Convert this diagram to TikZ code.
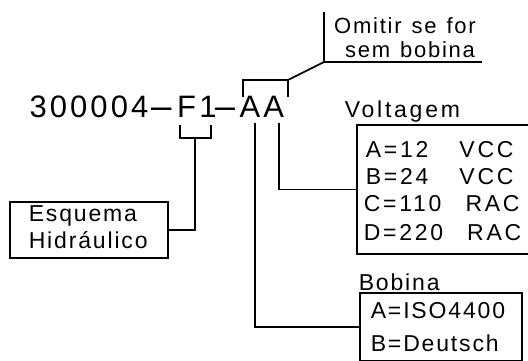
\documentclass[tikz,border=0pt]{standalone}
\usepackage{fontspec}
\setmainfont{Liberation Sans}
\newfontfamily\bigf{Liberation Sans}[LetterSpace=10]
\newfontfamily\smf{Liberation Sans}[LetterSpace=8]
\newfontfamily\smfw{Liberation Sans}[LetterSpace=12]
\newcommand\hyA{\kern-3pt\makebox[31.8pt][c]{\scalebox{2.7}[1]{-}}}
\newcommand\hyB{\kern-6pt\makebox[29pt][c]{\scalebox{2.65}[1]{-}}}
\newcommand\widesp{\spaceskip 24pt\relax}
\newcommand\widerSp{\spaceskip 31pt\relax}
\newcommand\omsp{\spaceskip 10pt\relax}
\begin{document}
\begin{tikzpicture}[x=1pt,y=-1pt,line width=1.6pt,
  txt/.style={inner sep=0pt,anchor=base west,font={\smf\fontsize{23}{26}\selectfont}},
  txtw/.style={inner sep=0pt,anchor=base west,font={\smfw\fontsize{23}{26}\selectfont\widesp}},
  txtv/.style={inner sep=0pt,anchor=base west,font={\smfw\fontsize{23}{26}\selectfont\widerSp}},
  omt/.style={inner sep=0pt,anchor=base,font={\smf\fontsize{22}{24}\selectfont\omsp}},
  box/.style={draw,inner sep=0pt}]
\useasboundingbox (0,0) rectangle (528,360);
\clip (0,0) rectangle (528,360);
% main code
\node[inner sep=0pt,anchor=base west,font={\bigf\fontsize{31}{36}\selectfont}] (code) at (28.7,117) {300004\hyA F1\hyB AA};
% boxes
\node[box,minimum width=158pt,minimum height=56pt] (esq) at (89,230) {};
\node[box,minimum width=183pt,minimum height=129pt] (volt) at (448.5,189.5) {};
\node[box,minimum width=162pt,minimum height=68pt] (bob) at (441,327) {};
% texts
\node[txt] (esq1) at (28,221.7) {Esquema};
\node[txt] (esq2) at (28,248) {Hidráulico};
\node[txt,font={\smfw\fontsize{23}{26}\selectfont}] (voltlab) at (344,117) {Voltagem};
\node[txtv] (v1) at (365,157) {A=12 VCC};
\node[txtv] (v2) at (365,184) {B=24 VCC};
\node[txtw] (v3) at (363,211.5) {C=110 RAC};
\node[txtw] (v4) at (363,240) {D=220 RAC};
\node[txt] (boblab) at (358,290) {Bobina};
\node[txt] (b1) at (370,318) {A=ISO4400};
\node[txt] (b2) at (370,351.7) {B=Deutsch};
\node[omt] (om1) at (405,33.3) {Omitir se for};
\node[omt] (om2) at (410,57) {sem bobina};
% F1 bracket
\coordinate (fl) at (180,125);
\coordinate (fr) at (211,125);
\coordinate (fm) at (195,138);
\draw (fl) |- (fm) -| (fr);
\draw (fm) |- (esq.east);
% AA bracket
\coordinate (al) at (243,97);
\coordinate (ar) at (288,97);
\coordinate (atop) at (288,80);
\coordinate (knee) at (324,62);
\coordinate (vt) at (324,12);
\coordinate (ue) at (482,62);
\draw (al) |- (atop) -- (ar);
\draw (atop) -- (knee);
\draw (vt) -- (knee) -- (ue);
% A lines
\coordinate (a1) at (255,123);
\coordinate (a2) at (279,123);
\draw (a1) |- (bob.west);
\draw (a2) |- (volt.west);
\end{tikzpicture}
\end{document}
